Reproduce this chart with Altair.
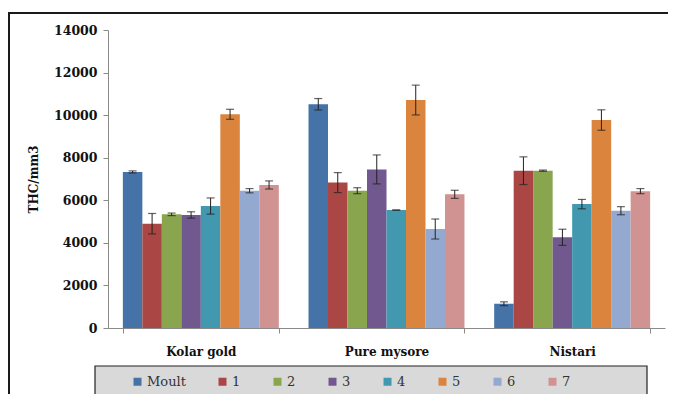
import altair as alt
import pandas as pd

groups = ["Kolar gold", "Pure mysore", "Nistari"]
series = ["Moult", "1", "2", "3", "4", "5", "6", "7"]
colors = ["#4572A7", "#AA4643", "#89A54E", "#71588F", "#4198AF", "#DB843D", "#93A9CF", "#D19392"]

kolar = [7330, 4900, 5340, 5310, 5730, 10040, 6450, 6720]
kolar_err = [50, 480, 60, 150, 380, 235, 100, 190]
pure = [10510, 6830, 6450, 7450, 5540, 10710, 4650, 6280]
pure_err = [270, 470, 140, 680, 0, 700, 470, 190]
nist = [1140, 7390, 7390, 4260, 5820, 9770, 5510, 6430]
nist_err = [90, 650, 30, 380, 220, 480, 190, 120]

rows = []
for g, vals, errs in zip(groups, [kolar, pure, nist], [kolar_err, pure_err, nist_err]):
    for s, v, e in zip(series, vals, errs):
        rows.append({"group": g, "series": s, "value": v, "lo": v - e, "hi": v + e})
df = pd.DataFrame(rows)

FONT = "DejaVu Serif"
W, H = 557, 298

x_enc = alt.X(
    "group:N", sort=groups,
    scale=alt.Scale(paddingInner=0.16, paddingOuter=0.08),
    axis=alt.Axis(title=None, labelFont=FONT, labelFontWeight="bold", labelFontSize=12,
                  labelColor="#111", labelPadding=13, labelAngle=0,
                  domainColor="#8a8a8a", tickColor="#8a8a8a", tickSize=5, tickBand="extent"),
)
xo_enc = alt.XOffset("series:N", sort=series, scale=alt.Scale(paddingInner=0, paddingOuter=0))
y_scale = alt.Scale(domain=[0, 14000])

base = alt.Chart(df)

bars = base.mark_bar().encode(
    x=x_enc, xOffset=xo_enc,
    y=alt.Y("value:Q", scale=y_scale,
            axis=alt.Axis(title="THC/mm3", values=list(range(0, 14001, 2000)), grid=False, format="d",
                          labelFont=FONT, labelFontWeight="bold", labelFontSize=12.5, labelColor="#111",
                          labelPadding=6, domainColor="#8a8a8a", tickColor="#8a8a8a", tickSize=5,
                          titleFont=FONT, titleFontWeight="bold", titleFontSize=12, titleColor="#111",
                          titleX=-68, titleY=149)),
    color=alt.Color("series:N", sort=series, scale=alt.Scale(domain=series, range=colors),
                    legend=alt.Legend(title=None, orient="none", legendX=23, legendY=345,
                                      direction="horizontal", columns=8, gridAlign="each",
                                      columnPadding=30, symbolType="square", symbolSize=64,
                                      symbolStrokeWidth=0, labelFont=FONT, labelFontSize=13,
                                      labelColor="#333", labelOffset=3)),
)

rules = base.mark_rule(color="#222", strokeWidth=1).encode(
    x=alt.X("group:N", sort=groups), xOffset=alt.XOffset("series:N", sort=series),
    y=alt.Y("lo:Q", scale=y_scale), y2="hi:Q",
)
caps_lo = base.mark_tick(color="#222", thickness=1.2, size=8).encode(
    x=alt.X("group:N", sort=groups), xOffset=alt.XOffset("series:N", sort=series),
    y=alt.Y("lo:Q", scale=y_scale),
)
caps_hi = base.mark_tick(color="#222", thickness=1.2, size=8).encode(
    x=alt.X("group:N", sort=groups), xOffset=alt.XOffset("series:N", sort=series),
    y=alt.Y("hi:Q", scale=y_scale),
)

one = pd.DataFrame({"a": [0]})
frame = alt.Chart(one).mark_rect(fillOpacity=0, stroke="#1a1a1a", strokeWidth=2, clip=False).encode(
    x=alt.value(-99), x2=alt.value(720), y=alt.value(-17), y2=alt.value(420)
)
box = alt.Chart(one).mark_rect(fill="#d9d9d9", stroke="#222", strokeWidth=1.2, clip=False).encode(
    x=alt.value(-13), x2=alt.value(539), y=alt.value(336), y2=alt.value(369)
)

chart = alt.layer(frame, box, bars, rules, caps_lo, caps_hi).properties(
    width=W, height=H,
    autosize=alt.AutoSizeParams(type="none"),
    padding={"left": 100, "top": 22, "right": 3, "bottom": 66},
).configure_view(stroke=None)

chart.save("out.html", embed_options={"renderer": "svg", "actions": False})
